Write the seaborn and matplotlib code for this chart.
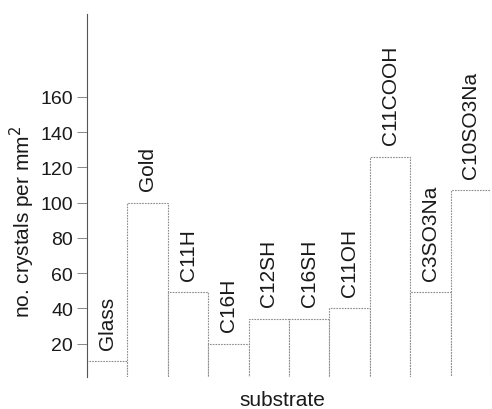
import matplotlib
matplotlib.use("Agg")
import matplotlib.pyplot as plt
import seaborn as sns
import pandas as pd

# Crystal density on each substrate
substrates = ["Glass", "Gold", "C11H", "C16H", "C12SH", "C16SH",
              "C11OH", "C11COOH", "C3SO3Na", "C10SO3Na"]
counts = [10, 100, 49, 20, 34, 34, 40, 126, 49, 107]
yticks = [20, 40, 60, 80, 100, 120, 140, 160]

df = pd.DataFrame({"substrate": substrates, "count": counts})

sns.set_style("ticks")
plt.rcParams["font.family"] = ["Liberation Sans", "DejaVu Sans"]

fig = plt.figure(figsize=(4.92, 4.10), dpi=100)
ax = fig.add_axes([0.177, 0.078, 0.821, 0.885])

sns.barplot(data=df, x="substrate", y="count", color="white",
            edgecolor="#8c8c8c", linewidth=0.8, width=1.0, ax=ax)
for p in ax.patches:
    p.set_linestyle((0, (1.5, 1)))
    p.set_facecolor("white")

# substrate names stacked above each bar
for i, (name, val) in enumerate(zip(substrates, counts)):
    ax.annotate(name, xy=(i, val), xytext=(0, 9), textcoords="offset points",
                rotation=90, ha="center", va="bottom", fontsize=15,
                color="#1a1a1a")

ax.set_xlim(-0.5, 9.5)
ax.set_ylim(1, 207)
ax.set_yticks(yticks)
ax.set_xticks([])
ax.tick_params(axis="y", length=7, width=0.7, color="#888888",
               labelsize=14, labelcolor="#1a1a1a", pad=3)
for t in ax.yaxis.get_ticklines():
    t.set_linestyle((0, (1, 1)))

sns.despine(ax=ax, top=True, right=True, bottom=True)
ax.spines["left"].set_color("#555555")
ax.spines["left"].set_linewidth(0.8)

ax.set_xlabel("substrate", fontsize=15, color="#1a1a1a")
ax.set_ylabel("no. crystals per mm$^2$", fontsize=15, color="#1a1a1a")
ax.xaxis.set_label_coords(0.483, -0.036)
ax.yaxis.set_label_coords(-0.124, 0.43)

fig.savefig("out.png", dpi=100)
